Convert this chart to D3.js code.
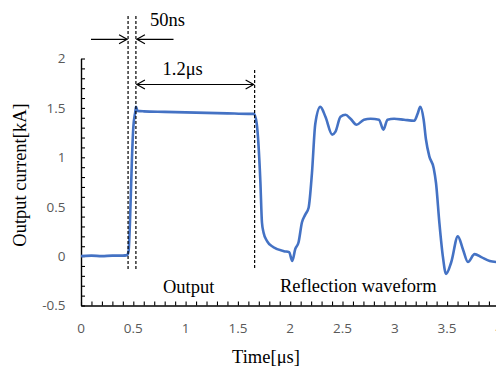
<!DOCTYPE html>
<html><head><meta charset="utf-8">
<script src="https://cdn.jsdelivr.net/npm/d3@7"></script>
<style>
html,body{margin:0;padding:0;background:#fff;}
svg{display:block;}
</style></head>
<body>
<script>
// Waveform samples (time in µs, current in kA)
const timeUs = [0, 0.1, 0.2, 0.3, 0.4, 0.44, 0.455, 0.468, 0.4875, 0.5, 0.519, 0.526, 0.54, 0.6, 0.8, 1.0, 1.2, 1.4, 1.6, 1.654,
  1.68, 1.715, 1.73, 1.745, 1.78, 1.84, 1.94, 1.99, 2.02, 2.048, 2.08, 2.112, 2.144, 2.176, 2.208, 2.24, 2.288, 2.337,
  2.401, 2.433, 2.481, 2.529, 2.577, 2.635, 2.705, 2.769, 2.849, 2.891, 2.93, 2.993, 3.089, 3.186, 3.218, 3.243, 3.276,
  3.298, 3.33, 3.372, 3.394, 3.426, 3.459, 3.49, 3.54, 3.603, 3.651, 3.699, 3.763, 3.827, 3.907, 3.97];
const currentKA = [0.0, 0.005, 0.0, 0.005, 0.005, 0.01, 0.05, 0.34, 1.0, 1.3, 1.46, 1.51, 1.47, 1.465, 1.46, 1.455, 1.45, 1.445, 1.44, 1.44,
  1.34, 0.75, 0.34, 0.24, 0.15, 0.09, 0.05, 0.04, -0.05, 0.07, 0.14, 0.34, 0.42, 0.49, 0.84, 1.34, 1.51, 1.41,
  1.23, 1.26, 1.41, 1.43, 1.39, 1.33, 1.38, 1.39, 1.38, 1.28, 1.38, 1.39, 1.38, 1.37, 1.44, 1.51, 1.38,
  1.18, 1.01, 0.89, 0.74, 0.34, 0.0, -0.18, -0.06, 0.20, 0.07, -0.06, 0.02, -0.01, -0.05, -0.06];
const xTickLabels = [0, 0.5, 1, 1.5, 2, 2.5, 3, 3.5, 4];
const yTickLabels = [-0.5, 0, 0.5, 1, 1.5, 2];
const markerTimes = [0.45, 0.525, 1.66];   // dashed marker lines (µs)
const pulseWidthLabel = "1.2μs";
const riseLabel = "50ns";

const W = 496, H = 366;
const svg = d3.select("body").append("svg").attr("width", W).attr("height", H);

const x = d3.scaleLinear().domain([0, 4]).range([81, 499.4]);
const y = d3.scaleLinear().domain([-0.5, 2]).range([305.5, 58.5]);

const serif = "'Liberation Serif','Times New Roman',serif";
const sans = "'Open Sans','Noto Sans',sans-serif";

// minor ticks every 0.1
const xMinor = d3.range(0, 41).map(i => i / 10);
const yMinor = d3.range(-5, 21).map(i => i / 10);

const gx = svg.append("g").attr("transform", `translate(0,${y(-0.5)})`)
  .call(d3.axisBottom(x).tickValues(xMinor).tickSize(-4).tickSizeOuter(0).tickFormat(""));
const gy = svg.append("g").attr("transform", `translate(${x(0)},0)`)
  .call(d3.axisLeft(y).tickValues(yMinor).tickSize(-4).tickSizeOuter(0).tickFormat(""));
[gx, gy].forEach(g => {
  g.selectAll("path").attr("stroke", "#000").attr("stroke-width", 1.4);
  g.selectAll("line").attr("stroke", "#000").attr("stroke-width", 1.1);
});

// tick labels
svg.append("g").selectAll("text").data(xTickLabels).join("text")
  .attr("x", d => x(d)).attr("y", 332.5)
  .attr("text-anchor", "middle").attr("font-family", sans).attr("font-size", 13.5).attr("fill", "#595959")
  .text(d => d);
svg.append("g").selectAll("text").data(yTickLabels).join("text")
  .attr("x", 65.5).attr("y", d => y(d) + 4.8)
  .attr("text-anchor", "end").attr("font-family", sans).attr("font-size", 13.5).attr("fill", "#595959")
  .text(d => d);

// axis titles
svg.append("text").attr("x", 266).attr("y", 362.5).attr("text-anchor", "middle")
  .attr("font-family", serif).attr("font-size", 18.5).attr("fill", "#000").text("Time[μs]");
svg.append("text").attr("transform", "translate(26,175) rotate(-90)").attr("text-anchor", "middle")
  .attr("font-family", serif).attr("font-size", 18.5).attr("fill", "#000").text("Output current[kA]");

// waveform
const pts = timeUs.map((t, i) => [t, currentKA[i]]);
svg.append("path").datum(pts)
  .attr("fill", "none").attr("stroke", "#4472C4").attr("stroke-width", 2.6).attr("stroke-linejoin", "round")
  .attr("d", d3.line().x(d => x(d[0])).y(d => y(d[1])).curve(d3.curveMonotoneX));

// dashed marker lines
const markerTops = [16, 16, 70];
svg.append("g").selectAll("line").data(markerTimes).join("line")
  .attr("x1", d => x(d)).attr("x2", d => x(d))
  .attr("y1", (d, i) => markerTops[i]).attr("y2", 269)
  .attr("stroke", "#000").attr("stroke-width", 1.2).attr("stroke-dasharray", "3,2");

// arrows
function arrowHead(xt, yt, dir) { // dir = +1 pointing right, -1 pointing left
  svg.append("path")
    .attr("d", `M${xt - dir * 8},${yt - 4.5} L${xt},${yt} L${xt - dir * 8},${yt + 4.5}`)
    .attr("fill", "none").attr("stroke", "#000").attr("stroke-width", 1.2);
}
const aY = 39.3;
svg.append("line").attr("x1", 91).attr("x2", x(markerTimes[0]) - 1).attr("y1", aY).attr("y2", aY)
  .attr("stroke", "#000").attr("stroke-width", 1.2);
arrowHead(x(markerTimes[0]) - 1, aY, 1);
svg.append("line").attr("x1", 173.5).attr("x2", x(markerTimes[1]) + 1).attr("y1", aY).attr("y2", aY)
  .attr("stroke", "#000").attr("stroke-width", 1.2);
arrowHead(x(markerTimes[1]) + 1, aY, -1);

const bY = 84.5;
svg.append("line").attr("x1", x(markerTimes[1]) + 1).attr("x2", x(markerTimes[2]) - 1).attr("y1", bY).attr("y2", bY)
  .attr("stroke", "#000").attr("stroke-width", 1.2);
arrowHead(x(markerTimes[1]) + 1, bY, -1);
arrowHead(x(markerTimes[2]) - 1, bY, 1);

// annotation texts
svg.append("text").attr("x", 150).attr("y", 25.5).attr("font-family", serif).attr("font-size", 18.5).text(riseLabel);
svg.append("text").attr("x", 162.5).attr("y", 75).attr("font-family", serif).attr("font-size", 18.5).text(pulseWidthLabel);
svg.append("text").attr("x", 163).attr("y", 292.5).attr("font-family", serif).attr("font-size", 18.5).text("Output");
svg.append("text").attr("x", 280).attr("y", 292).attr("font-family", serif).attr("font-size", 18.5).text("Reflection waveform");
</script>
</body></html>
